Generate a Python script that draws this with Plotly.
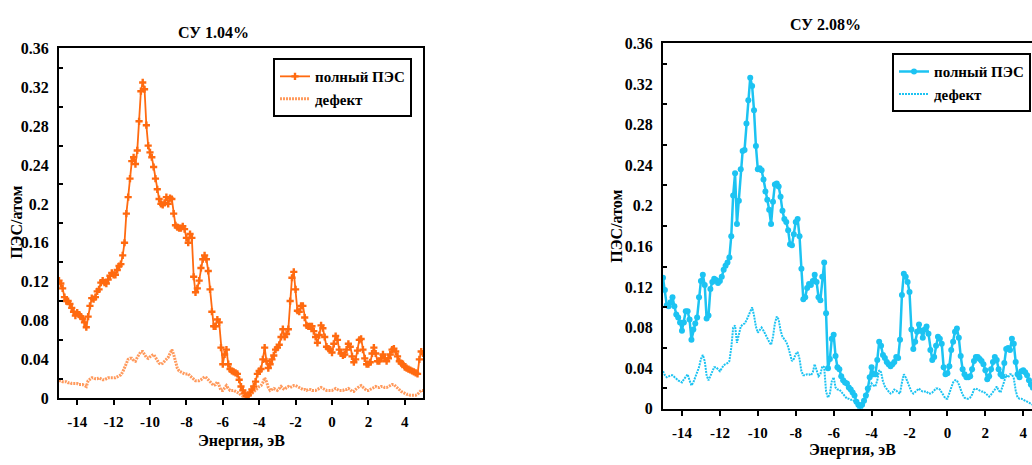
import numpy as np
import plotly.graph_objects as go

# Energy grids (eV), 0.1 eV step
energy_left = np.round(np.arange(201) * 0.1 - 15, 1)
energy_right = np.round(np.arange(196) * 0.1 - 15, 1)

# СУ 1.04% : total DOS and defect contribution (states/atom)
left_total = [
    0.121, 0.118, 0.113, 0.104, 0.100, 0.100, 0.097, 0.093, 0.089, 0.085,
    0.088, 0.086, 0.084, 0.082, 0.078, 0.073, 0.084, 0.095, 0.103, 0.102,
    0.104, 0.110, 0.112, 0.119, 0.121, 0.119, 0.118, 0.122, 0.126, 0.129,
    0.127, 0.127, 0.132, 0.136, 0.138, 0.147, 0.160, 0.190, 0.207, 0.226,
    0.244, 0.248, 0.241, 0.255, 0.285, 0.316, 0.325, 0.318, 0.281, 0.260,
    0.253, 0.248, 0.238, 0.226, 0.215, 0.205, 0.200, 0.199, 0.201, 0.207,
    0.200, 0.206, 0.205, 0.190, 0.178, 0.176, 0.175, 0.175, 0.177, 0.174,
    0.165, 0.160, 0.169, 0.165, 0.125, 0.109, 0.113, 0.121, 0.134, 0.143,
    0.147, 0.143, 0.131, 0.112, 0.089, 0.074, 0.074, 0.081, 0.078, 0.052,
    0.035, 0.045, 0.050, 0.035, 0.030, 0.028, 0.027, 0.026, 0.025, 0.019,
    0.012, 0.008, 0.005, 0.002, 0.003, 0.006, 0.009, 0.012, 0.017, 0.025,
    0.028, 0.030, 0.040, 0.052, 0.038, 0.031, 0.035, 0.040, 0.044, 0.050,
    0.052, 0.055, 0.063, 0.071, 0.063, 0.066, 0.071, 0.100, 0.124, 0.130,
    0.112, 0.090, 0.089, 0.095, 0.095, 0.083, 0.075, 0.074, 0.074, 0.074,
    0.069, 0.063, 0.057, 0.065, 0.075, 0.072, 0.063, 0.053, 0.051, 0.050,
    0.047, 0.056, 0.064, 0.060, 0.050, 0.046, 0.044, 0.045, 0.050, 0.056,
    0.053, 0.043, 0.037, 0.040, 0.049, 0.060, 0.061, 0.050, 0.041, 0.035,
    0.035, 0.037, 0.046, 0.052, 0.046, 0.038, 0.038, 0.041, 0.045, 0.041,
    0.038, 0.041, 0.045, 0.050, 0.051, 0.048, 0.043, 0.038, 0.036, 0.035,
    0.032, 0.031, 0.030, 0.029, 0.028, 0.027, 0.026, 0.025, 0.040, 0.048,
    0.046,
]
left_defect = [
    0.018, 0.018, 0.017, 0.017, 0.017, 0.016, 0.016, 0.015, 0.015, 0.015,
    0.015, 0.014, 0.014, 0.014, 0.013, 0.012, 0.018, 0.020, 0.021, 0.021,
    0.020, 0.020, 0.021, 0.020, 0.019, 0.019, 0.020, 0.021, 0.021, 0.021,
    0.021, 0.021, 0.022, 0.023, 0.024, 0.027, 0.031, 0.036, 0.040, 0.041,
    0.041, 0.039, 0.038, 0.042, 0.045, 0.048, 0.048, 0.045, 0.042, 0.041,
    0.043, 0.044, 0.045, 0.042, 0.039, 0.036, 0.035, 0.036, 0.038, 0.040,
    0.042, 0.046, 0.050, 0.045, 0.037, 0.031, 0.028, 0.027, 0.026, 0.025,
    0.025, 0.025, 0.023, 0.021, 0.019, 0.018, 0.018, 0.018, 0.019, 0.021,
    0.022, 0.021, 0.019, 0.016, 0.015, 0.013, 0.014, 0.017, 0.013, 0.008,
    0.008, 0.010, 0.013, 0.010, 0.008, 0.008, 0.008, 0.007, 0.006, 0.005,
    0.003, 0.002, 0.002, 0.001, 0.001, 0.003, 0.005, 0.007, 0.008, 0.010,
    0.012, 0.013, 0.016, 0.021, 0.017, 0.011, 0.008, 0.009, 0.010, 0.009,
    0.008, 0.010, 0.012, 0.010, 0.009, 0.011, 0.012, 0.011, 0.012, 0.013,
    0.013, 0.012, 0.011, 0.010, 0.009, 0.009, 0.008, 0.009, 0.009, 0.008,
    0.008, 0.008, 0.009, 0.010, 0.011, 0.010, 0.009, 0.008, 0.008, 0.008,
    0.008, 0.009, 0.010, 0.009, 0.008, 0.008, 0.008, 0.009, 0.009, 0.010,
    0.009, 0.007, 0.007, 0.009, 0.011, 0.012, 0.013, 0.011, 0.009, 0.008,
    0.008, 0.009, 0.010, 0.011, 0.012, 0.011, 0.011, 0.012, 0.012, 0.011,
    0.011, 0.012, 0.013, 0.014, 0.014, 0.012, 0.010, 0.008, 0.007, 0.006,
    0.005, 0.004, 0.004, 0.003, 0.003, 0.003, 0.003, 0.004, 0.006, 0.008,
    0.008,
]

# СУ 2.08% : total DOS and defect contribution (states/atom)
right_total = [
    0.129, 0.117, 0.102, 0.101, 0.105, 0.110, 0.101, 0.093, 0.090, 0.085,
    0.077, 0.085, 0.096, 0.096, 0.088, 0.068, 0.078, 0.084, 0.090, 0.110,
    0.126, 0.132, 0.122, 0.089, 0.092, 0.118, 0.125, 0.128, 0.127, 0.124,
    0.126, 0.130, 0.137, 0.141, 0.144, 0.149, 0.170, 0.210, 0.232, 0.182,
    0.205, 0.236, 0.254, 0.255, 0.281, 0.304, 0.326, 0.318, 0.294, 0.259,
    0.236, 0.237, 0.235, 0.226, 0.214, 0.206, 0.196, 0.182, 0.204, 0.221,
    0.222, 0.219, 0.209, 0.195, 0.187, 0.184, 0.176, 0.162, 0.161, 0.172,
    0.184, 0.187, 0.170, 0.138, 0.108, 0.110, 0.119, 0.123, 0.122, 0.126,
    0.132, 0.125, 0.110, 0.107, 0.130, 0.144, 0.094, 0.040, 0.049, 0.069,
    0.073, 0.052, 0.041, 0.039, 0.032, 0.028, 0.026, 0.025, 0.021, 0.019,
    0.016, 0.013, 0.007, 0.004, 0.001, 0.004, 0.008, 0.013, 0.020, 0.031,
    0.041, 0.034, 0.034, 0.048, 0.066, 0.062, 0.053, 0.050, 0.046, 0.044,
    0.042, 0.044, 0.046, 0.051, 0.050, 0.068, 0.112, 0.133, 0.130, 0.125,
    0.115, 0.078, 0.059, 0.066, 0.076, 0.083, 0.077, 0.070, 0.078, 0.081,
    0.074, 0.058, 0.048, 0.051, 0.062, 0.071, 0.069, 0.064, 0.041, 0.034,
    0.035, 0.042, 0.058, 0.066, 0.076, 0.079, 0.070, 0.052, 0.039, 0.034,
    0.031, 0.031, 0.032, 0.039, 0.047, 0.051, 0.051, 0.049, 0.047, 0.044,
    0.038, 0.029, 0.032, 0.039, 0.046, 0.051, 0.048, 0.039, 0.034, 0.032,
    0.045, 0.059, 0.060, 0.058, 0.069, 0.064, 0.046, 0.034, 0.031, 0.037,
    0.038, 0.036, 0.033, 0.028, 0.024, 0.021,
]
right_defect = [
    0.037, 0.033, 0.031, 0.032, 0.033, 0.033, 0.031, 0.029, 0.028, 0.027,
    0.026, 0.029, 0.032, 0.034, 0.028, 0.023, 0.026, 0.031, 0.035, 0.041,
    0.049, 0.053, 0.047, 0.033, 0.028, 0.033, 0.038, 0.041, 0.041, 0.039,
    0.037, 0.040, 0.043, 0.044, 0.045, 0.047, 0.060, 0.080, 0.082, 0.065,
    0.072, 0.081, 0.083, 0.084, 0.087, 0.091, 0.096, 0.100, 0.092, 0.081,
    0.075, 0.077, 0.080, 0.077, 0.073, 0.069, 0.066, 0.063, 0.071, 0.084,
    0.091, 0.088, 0.077, 0.071, 0.068, 0.066, 0.061, 0.053, 0.047, 0.049,
    0.054, 0.056, 0.049, 0.037, 0.033, 0.033, 0.034, 0.034, 0.033, 0.036,
    0.044, 0.038, 0.032, 0.034, 0.042, 0.041, 0.017, 0.011, 0.015, 0.027,
    0.031, 0.021, 0.019, 0.019, 0.017, 0.014, 0.012, 0.010, 0.010, 0.009,
    0.009, 0.007, 0.006, 0.004, 0.002, 0.002, 0.005, 0.009, 0.015, 0.021,
    0.025, 0.023, 0.022, 0.028, 0.038, 0.036, 0.027, 0.022, 0.019, 0.017,
    0.015, 0.016, 0.019, 0.018, 0.016, 0.015, 0.026, 0.034, 0.031, 0.026,
    0.021, 0.017, 0.015, 0.017, 0.019, 0.020, 0.018, 0.017, 0.017, 0.017,
    0.015, 0.015, 0.016, 0.018, 0.020, 0.020, 0.019, 0.016, 0.013, 0.010,
    0.010, 0.016, 0.021, 0.026, 0.028, 0.028, 0.024, 0.018, 0.014, 0.011,
    0.010, 0.010, 0.011, 0.014, 0.019, 0.020, 0.019, 0.018, 0.017, 0.017,
    0.015, 0.013, 0.012, 0.014, 0.016, 0.019, 0.022, 0.018, 0.016, 0.021,
    0.027, 0.033, 0.031, 0.034, 0.034, 0.030, 0.018, 0.011, 0.010, 0.010,
    0.009, 0.008, 0.007, 0.006, 0.005, 0.004,
]

# Axis tick labels
x_ticks = [-14, -12, -10, -8, -6, -4, -2, 0, 2, 4]
x_tick_labels = ["-14", "-12", "-10", "-8", "-6", "-4", "-2", "0", "2", "4"]
y_ticks = [0, 0.04, 0.08, 0.12, 0.16, 0.2, 0.24, 0.28, 0.32, 0.36]
y_tick_labels = ["0", "0.04", "0.08", "0.12", "0.16", "0.2", "0.24", "0.28", "0.32", "0.36"]
y_minor = [0.02, 0.06, 0.10, 0.14, 0.18, 0.22, 0.26, 0.30, 0.34]

W, H = 1032, 465
ORANGE = "#FF6A10"
ORANGE_LIGHT = "rgba(255,115,30,0.72)"
CYAN = "#1CC3F2"
FONT = "Times New Roman, Liberation Serif, serif"
FS = 16


def px(x):
    return x / W


def py(y):
    return 1 - y / H


fig = go.Figure()

fig.add_trace(go.Scatter(
    x=energy_left, y=left_defect, mode="lines", name="дефект",
    line=dict(color=ORANGE_LIGHT, width=3, dash="2px,1px"),
    xaxis="x", yaxis="y", legend="legend", legendrank=2))
fig.add_trace(go.Scatter(
    x=energy_left, y=left_total, mode="lines+markers", name="полный ПЭС",
    line=dict(color=ORANGE, width=1.8),
    marker=dict(symbol="cross", size=6, color=ORANGE),
    xaxis="x", yaxis="y", legend="legend", legendrank=1))

fig.add_trace(go.Scatter(
    x=energy_right, y=right_defect, mode="lines", name="дефект",
    line=dict(color=CYAN, width=2, dash="2px,1px"),
    xaxis="x2", yaxis="y2", legend="legend2", legendrank=2))
fig.add_trace(go.Scatter(
    x=energy_right, y=right_total, mode="lines+markers", name="полный ПЭС",
    line=dict(color=CYAN, width=2.5),
    marker=dict(symbol="circle", size=6, color=CYAN),
    xaxis="x2", yaxis="y2", legend="legend2", legendrank=1))

xcommon = dict(
    tickmode="array", tickvals=x_ticks, ticktext=x_tick_labels,
    ticks="outside", ticklen=5, tickwidth=2, tickcolor="black",
    showline=True, linecolor="black", linewidth=2, mirror=True,
    showgrid=False, zeroline=False, ticklabelstandoff=4,
    tickfont=dict(family=FONT, size=15, color="black", weight="bold"),
)
ycommon = dict(
    range=[0, 0.36], tickmode="array", tickvals=y_ticks, ticktext=y_tick_labels,
    ticks="", showline=True, linecolor="black", linewidth=2,
    showgrid=False, zeroline=False, ticklabelstandoff=5,
    tickfont=dict(family=FONT, size=FS, color="black", weight="bold"),
    minor=dict(tickmode="array", tickvals=y_minor, ticks="inside",
               ticklen=4, tickwidth=2, tickcolor="black", showgrid=False),
)

legend_common = dict(
    xanchor="right", yanchor="top", bgcolor="white",
    bordercolor="black", borderwidth=2, itemwidth=30,
    font=dict(family=FONT, size=15, color="black", weight="bold"),
)

fig.update_layout(
    width=W, height=H,
    margin=dict(l=0, r=0, t=0, b=0),
    paper_bgcolor="white", plot_bgcolor="white",
    font=dict(family=FONT, size=FS, color="black", weight="bold"),
    xaxis=dict(domain=[px(59), px(423)], range=[-15, 5], anchor="y", **xcommon),
    yaxis=dict(domain=[py(405), py(42)], anchor="x", mirror=True, **ycommon),
    xaxis2=dict(domain=[px(663), 1.0], range=[-15, 4.46], anchor="y2", **xcommon),
    yaxis2=dict(domain=[py(416), py(36.7)], anchor="x2", mirror=False, **ycommon),
    legend=dict(x=px(412), y=py(52), **legend_common),
    legend2=dict(x=px(1031), y=py(47), **legend_common),
    showlegend=True,
)

annotations = [
    ("<b>СУ 1.04%</b>", 213, 25, 0),
    ("<b>Энергия, эВ</b>", 241, 449, 0),
    ("<b>ПЭС/атом</b>", 17, 223, -90),
    ("<b>СУ 2.08%</b>", 825, 17, 0),
    ("<b>Энергия, эВ</b>", 852, 459, 0),
    ("<b>ПЭС/атом</b>", 617, 227, -90),
]
for text, ax_, ay_, ang in annotations:
    fig.add_annotation(
        text=text, x=px(ax_), y=py(ay_), xref="paper", yref="paper",
        xanchor="center", yanchor="middle", showarrow=False, textangle=ang,
        font=dict(family=FONT, size=FS, color="black"),
    )

fig.write_html("out.html")
